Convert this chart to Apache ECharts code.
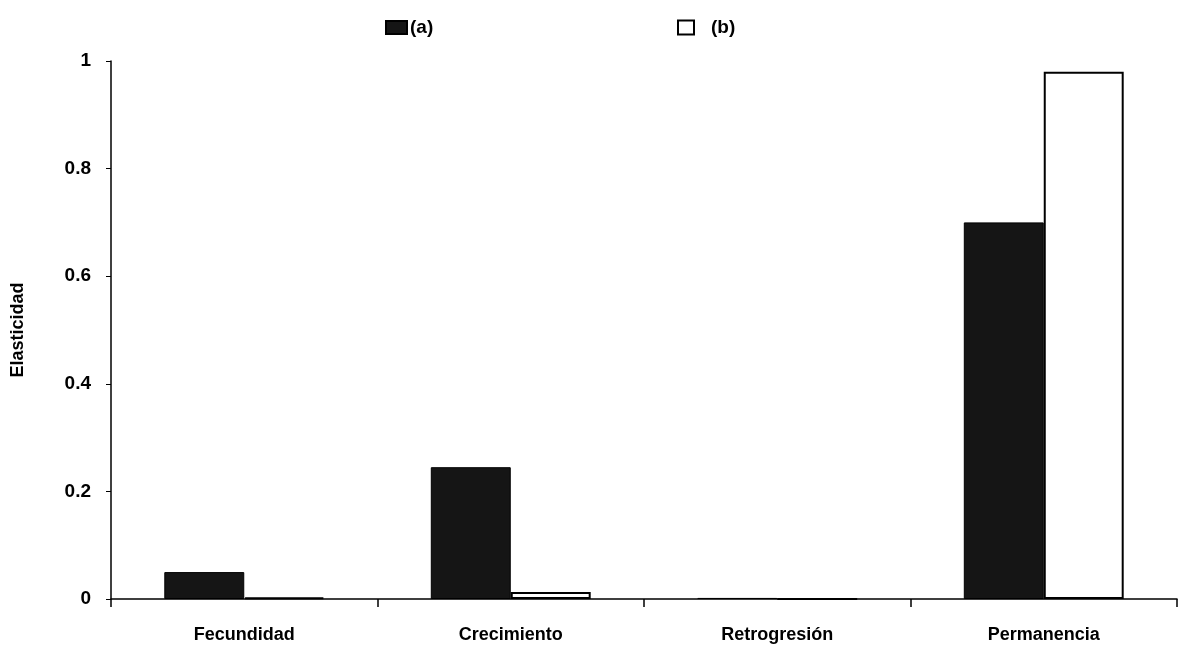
<!DOCTYPE html>
<html>
<head>
<meta charset="utf-8">
<script src="https://cdn.jsdelivr.net/npm/echarts@6/dist/echarts.min.js"></script>
<style>html,body{margin:0;padding:0;background:#fff}#c{width:1178px;height:652px}</style>
</head>
<body>
<div id="c"></div>
<script>
const categories = ['Fecundidad', 'Crecimiento', 'Retrogresión', 'Permanencia'];
const seriesA = [0.05, 0.245, 0.002, 0.70];
const seriesB = [0.003, 0.013, 0.0, 0.98];
const yTicks = [0, 0.2, 0.4, 0.6, 0.8, 1];

const chart = echarts.init(document.getElementById('c'));
const font = 'Liberation Sans, Arial, sans-serif';
chart.setOption({
  animation: false,
  backgroundColor: '#fff',
  legend: [
    { data: [{ name: '(a)', icon: 'rect' }], left: 380, top: 13, itemWidth: 21, itemHeight: 13, itemGap: 6,
      textStyle: { fontFamily: font, fontWeight: 'bold', fontSize: 19, color: '#000', padding: [0, 0, 0, -2] } },
    { data: [{ name: '(b)', icon: 'rect' }], left: 672, top: 13, itemWidth: 16, itemHeight: 14,
      textStyle: { fontFamily: font, fontWeight: 'bold', fontSize: 19, color: '#000', padding: [0, 0, 0, 12] } }
  ],
  grid: { left: 111, right: 1, top: 61, bottom: 53 },
  xAxis: {
    type: 'category',
    data: categories,
    axisLine: { lineStyle: { color: '#000', width: 1.5 } },
    axisTick: { show: true, length: 8, lineStyle: { color: '#000', width: 1.5 } },
    axisLabel: { margin: 27, fontFamily: font, fontWeight: 'bold', fontSize: 18, color: '#000' }
  },
  yAxis: {
    type: 'value',
    min: 0, max: 1, interval: 0.2,
    name: 'Elasticidad',
    nameLocation: 'middle',
    nameGap: 84,
    nameTextStyle: { fontFamily: font, fontWeight: 'bold', fontSize: 18, color: '#000' },
    axisLine: { show: true, lineStyle: { color: '#000', width: 1.5 } },
    axisTick: { show: true, length: 5, lineStyle: { color: '#000' } },
    splitLine: { show: false },
    axisLabel: {
      margin: 20, fontFamily: font, fontWeight: 'bold', fontSize: 19, color: '#000',
      formatter: v => { const t = yTicks.find(x => Math.abs(x - v) < 1e-9); return t === undefined ? '' : String(t); }
    }
  },
  series: [
    { name: '(a)', type: 'bar', data: seriesA, barGap: '0%', barCategoryGap: '40%',
      itemStyle: { color: '#151515', borderColor: '#000', borderWidth: 1 } },
    { name: '(b)', type: 'bar', data: seriesB,
      itemStyle: { color: '#fff', borderColor: '#000', borderWidth: 2 } }
  ]
});
</script>
</body>
</html>
